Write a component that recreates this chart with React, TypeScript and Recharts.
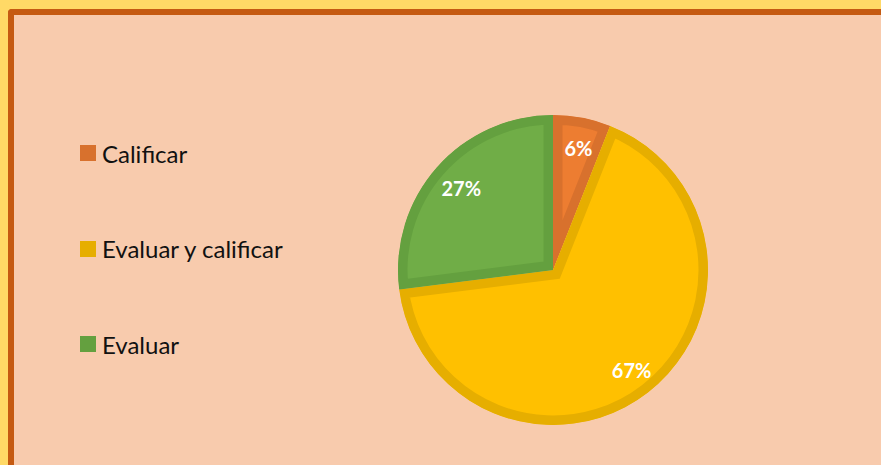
import { Legend, Pie, PieChart, Sector } from 'recharts';

const CATEGORIES = ['Calificar', 'Evaluar y calificar', 'Evaluar'];
const VALUES = [6, 67, 27];
const FILLS = ['#ED7D31', '#FFC000', '#70AD47'];
const EDGES = ['#D8712D', '#E6AE00', '#64A03F'];

const data = CATEGORIES.map((name, i) => ({ name, value: VALUES[i], fill: FILLS[i] }));

const RAD = Math.PI / 180;

// slice with an inner border, like the Office default
function InnerBorderSlice(props: any) {
  const { index } = props;
  const id = `slice-clip-${index}`;
  return (
    <g>
      <defs>
        <clipPath id={id}>
          <Sector {...props} />
        </clipPath>
      </defs>
      <Sector
        {...props}
        fill={FILLS[index]}
        stroke={EDGES[index]}
        strokeWidth={19}
        clipPath={`url(#${id})`}
      />
    </g>
  );
}

function PctLabel(props: any) {
  const { cx, cy, midAngle, percent } = props;
  const r = 125;
  const x = cx + r * Math.cos(-midAngle * RAD);
  const y = cy + r * Math.sin(-midAngle * RAD);
  return (
    <text
      x={x + 2}
      y={y + 1}
      fill="#fff"
      textAnchor="middle"
      dominantBaseline="central"
      fontFamily="Lato, sans-serif"
      fontWeight={700}
      fontSize={20}
    >
      {`${Math.round(percent * 100)}%`}
    </text>
  );
}

function LegendBox() {
  return (
    <div style={{ fontFamily: 'Lato, sans-serif', fontSize: 24, color: '#111' }}>
      {CATEGORIES.map((c, i) => (
        <div
          key={c}
          style={{ display: 'flex', alignItems: 'center', height: 32, marginBottom: i < 2 ? 63.5 : 0 }}
        >
          <span
            style={{ width: 16, height: 16, background: EDGES[i], marginRight: 6, display: 'inline-block' }}
          />
          <span>{c}</span>
        </div>
      ))}
    </div>
  );
}

export default function App() {
  return (
    <div
      style={{
        position: 'fixed',
        left: 0,
        top: 0,
        width: 881,
        height: 465,
        background: '#FFD966',
        overflow: 'hidden',
      }}
    >
      <div
        style={{
          position: 'absolute',
          left: 8,
          top: 9,
          width: 890,
          height: 470,
          background: '#F8CBAD',
          borderLeft: '6px solid #C55A11',
          borderTop: '6px solid #C55A11',
          borderTopLeftRadius: 4,
        }}
      />
      <div style={{ position: 'absolute', left: 0, top: 0 }}>
        <PieChart width={881} height={465} margin={{ top: 0, right: 0, bottom: 0, left: 0 }}>
          <Pie
            data={data}
            dataKey="value"
            nameKey="name"
            cx={553}
            cy={270}
            outerRadius={155}
            startAngle={90}
            endAngle={-270}
            stroke="none"
            labelLine={false}
            label={PctLabel}
            shape={InnerBorderSlice}
            isAnimationActive={false}
          />
          <Legend
            content={<LegendBox />}
            wrapperStyle={{ position: 'absolute', left: 80, top: 137, width: 300 }}
          />
        </PieChart>
      </div>
    </div>
  );
}
